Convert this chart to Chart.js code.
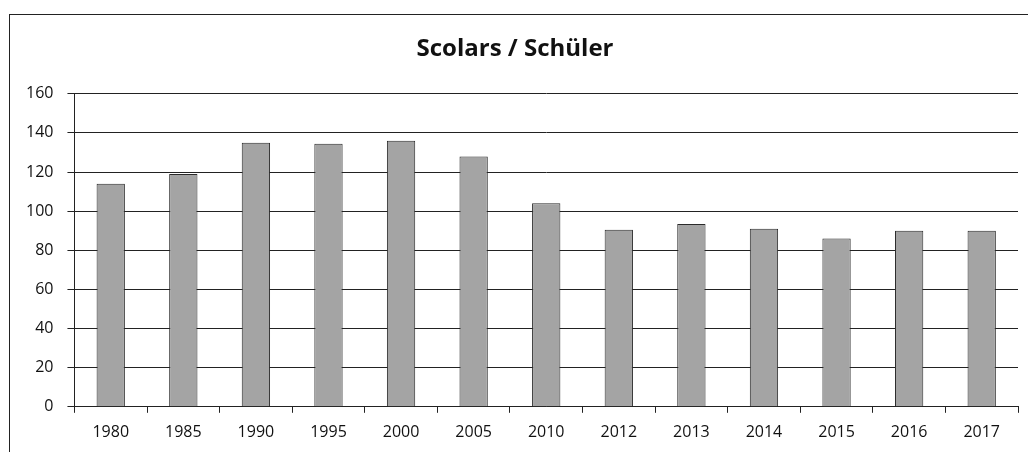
<!DOCTYPE html>
<html>
<head>
<meta charset="utf-8">
<script src="https://cdn.jsdelivr.net/npm/chart.js@4/dist/chart.umd.min.js"></script>
<style>
  html, body { margin: 0; padding: 0; background: #fff; }
  #wrap { position: relative; width: 1028px; height: 452px; }
  #frame { position: absolute; left: 9px; top: 14px; width: 1030px; height: 450px;
           border-left: 1px solid #222; border-top: 1px solid #222; }
  canvas { position: absolute; left: 0; top: 0; }
</style>
</head>
<body>
<div id="wrap">
  <div id="frame"></div>
  <canvas id="schuelerChart" width="1028" height="452"></canvas>
</div>
<script>
const years = ['1980', '1985', '1990', '1995', '2000', '2005', '2010', '2012', '2013', '2014', '2015', '2016', '2017'];
const pupils = [114, 119, 135, 134.5, 136, 128, 104, 90.5, 93.5, 91, 86, 90, 90];
const yTicks = [0, 20, 40, 60, 80, 100, 120, 140, 160];

document.addEventListener('DOMContentLoaded', function() {
    const ctx = document.getElementById('schuelerChart').getContext('2d');
    new Chart(ctx, {
        type: 'bar',
        data: {
            labels: years,
            datasets: [{
                label: 'Scolars / Schüler',
                data: pupils,
                backgroundColor: '#a4a4a4',
                borderColor: '#2a2a2a',
                borderWidth: 1,
                barPercentage: 0.39,
                categoryPercentage: 1
            }]
        },
        options: {
            responsive: false,
            animation: false,
            layout: { padding: { left: 12, right: 10, top: 35, bottom: 0 } },
            plugins: {
                legend: { display: false },
                tooltip: { enabled: false },
                title: {
                    display: true,
                    text: 'Scolars / Schüler',
                    color: '#111',
                    font: { family: 'Open Sans', size: 24, weight: 'bold' },
                    padding: { top: 0, bottom: 30 }
                }
            },
            scales: {
                y: {
                    min: 0,
                    max: 160,
                    afterBuildTicks: function(axis) { axis.ticks = yTicks.map(v => ({ value: v })); },
                    border: { color: '#222', width: 1 },
                    grid: { color: '#222', lineWidth: 1, tickLength: 7 },
                    ticks: { color: '#111', padding: 14, font: { family: 'Open Sans', size: 16 } }
                },
                x: {
                    offset: true,
                    border: { color: '#222', width: 1 },
                    grid: { offset: true, drawOnChartArea: false, color: '#222', tickLength: 6 },
                    ticks: { color: '#111', padding: 10, maxRotation: 0, font: { family: 'Open Sans', size: 16 } }
                }
            }
        }
    });
});
</script>
</body>
</html>
